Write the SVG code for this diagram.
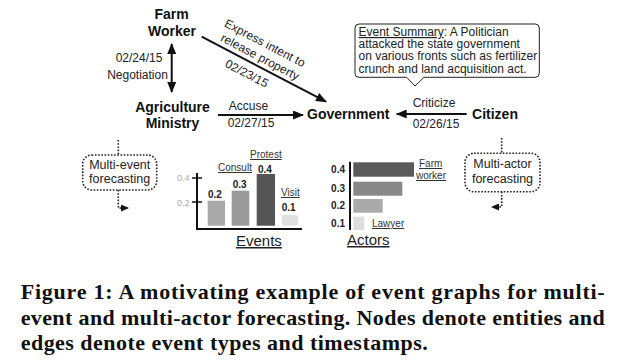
<svg xmlns="http://www.w3.org/2000/svg" width="620" height="361" viewBox="0 0 620 361">
<style>
.node{font-family:"Liberation Sans",Arial,sans-serif;font-weight:bold;font-size:14px;fill:#111;text-anchor:middle}
.lbl{font-family:"Liberation Sans",Arial,sans-serif;font-size:12px;fill:#222}
.mid{text-anchor:middle}
.sum{font-family:"Liberation Sans",Arial,sans-serif;font-size:12px;fill:#222}
.small{font-family:"Liberation Sans",Arial,sans-serif;font-size:10px;fill:#333}
.val{font-family:"Liberation Sans",Arial,sans-serif;font-size:10px;font-weight:bold;fill:#222}
.tick{font-family:"Liberation Sans",Arial,sans-serif;font-size:9px;fill:#aaa}
.ax{font-family:"Liberation Sans",Arial,sans-serif;font-size:15px;fill:#222;text-decoration:underline}
.u{text-decoration:underline}
.edge{stroke:#111;stroke-width:2;fill:none}
.dot{stroke:#222;stroke-width:1.6;fill:none;stroke-dasharray:1.6 1.6}
.fc{font-family:"Liberation Sans",Arial,sans-serif;font-size:12.5px;fill:#222;text-anchor:middle}
.cap{font-family:"Liberation Serif","Times New Roman",serif;font-weight:bold;font-size:22px;fill:#111}
</style>
<defs>
<marker id="ah" markerUnits="userSpaceOnUse" markerWidth="11" markerHeight="9" refX="10" refY="4.5" orient="auto-start-reverse">
<path d="M0,0 L11,4.5 L0,9 z" fill="#111"/>
</marker>
<marker id="ahs" markerUnits="userSpaceOnUse" markerWidth="8" markerHeight="7" refX="7" refY="3.5" orient="auto">
<path d="M0,0 L8,3.5 L0,7 z" fill="#111"/>
</marker>
</defs>
<rect width="620" height="361" fill="#fff"/>

<g id="connectors">
<line class="edge" x1="171.7" y1="44" x2="171.7" y2="92" marker-start="url(#ah)" marker-end="url(#ah)"/>
<line class="edge" x1="201.7" y1="36.7" x2="326" y2="101.7" marker-end="url(#ah)"/>
<line class="edge" x1="218" y1="115" x2="303" y2="115" marker-end="url(#ah)"/>
<line class="edge" x1="466.7" y1="114" x2="396.7" y2="114" marker-end="url(#ah)"/>
<text class="lbl mid" x="139" y="61.5">02/24/15</text>
<text class="lbl mid" x="137.5" y="79">Negotiation</text>
<text class="lbl mid" x="248.5" y="110">Accuse</text>
<text class="lbl mid" x="251" y="126.5">02/27/15</text>
<text class="lbl mid" x="434" y="106.5">Criticize</text>
<text class="lbl mid" x="436" y="128">02/26/15</text>
<g transform="translate(201.7,36.7) rotate(27.6)">
<text class="lbl mid" x="59" y="-19.5">Express intent to</text>
<text class="lbl mid" x="61" y="-5">release property</text>
<text class="lbl mid" x="57" y="15.8">02/23/15</text>
</g>
<path class="dot" d="M118.3,140 V155"/>
<path class="dot" d="M118.3,190 V208 H128" marker-end="url(#ahs)"/>
<path class="dot" d="M501.7,138 V153.3"/>
<path class="dot" d="M501.7,191.7 V207 H492" marker-end="url(#ahs)"/>
</g>

<g id="farm-worker">
<text class="node" x="171.5" y="18.5">Farm</text>
<text class="node" x="172" y="36">Worker</text>
</g>
<g id="agriculture-ministry">
<text class="node" x="172.5" y="111.5">Agriculture</text>
<text class="node" x="172.5" y="128">Ministry</text>
</g>
<g id="government">
<text class="node" x="348.3" y="118.5">Government</text>
</g>
<g id="citizen">
<text class="node" x="495" y="118.5">Citizen</text>
</g>

<g id="event-summary">
<path d="M359,24 H535.3 Q539.3,24 539.3,28 V73.3 Q539.3,77.3 535.3,77.3 H424 L415,86 L406.7,77.3 H359 Q355,77.3 355,73.3 V28 Q355,24 359,24 Z" fill="#fff" stroke="#222" stroke-width="1"/>
<text class="sum" x="358.5" y="36"><tspan class="u">Event Summary</tspan>: A Politician</text>
<text class="sum" x="358.5" y="48.2">attacked the state government</text>
<text class="sum" x="358.5" y="60.4">on various fronts such as fertilizer</text>
<text class="sum" x="358.5" y="72.6">crunch and land acquisition act.</text>
</g>

<g id="multi-event-forecasting">
<rect class="dot" x="82.7" y="155" width="74" height="35" rx="9"/>
<text class="fc" x="119.7" y="169.3">Multi-event</text>
<text class="fc" x="119.7" y="183">forecasting</text>
</g>
<g id="multi-actor-forecasting">
<rect class="dot" x="465" y="153.3" width="75" height="38.4" rx="9"/>
<text class="fc" x="502.5" y="168.3">Multi-actor</text>
<text class="fc" x="502.5" y="183.3">forecasting</text>
</g>

<g id="events-chart">
<rect x="207.7" y="200.7" width="17.3" height="25" fill="#a9a9a9"/>
<rect x="231.7" y="190.7" width="17.6" height="35" fill="#9a9a9a"/>
<rect x="256.7" y="174" width="18.3" height="51.7" fill="#555"/>
<rect x="281.7" y="215" width="16.6" height="10.7" rx="3" fill="#e0e0e0"/>
<path d="M197,173 V229 H302" stroke="#111" stroke-width="2" fill="none"/>
<path d="M192,178 H202 M192,202 H202" stroke="#111" stroke-width="1.6"/>
<text class="tick" x="177" y="181">0.4</text>
<text class="tick" x="177" y="205.5">0.2</text>
<text class="val" x="208" y="198">0.2</text>
<text class="val" x="232.7" y="188">0.3</text>
<text class="val" x="258" y="173">0.4</text>
<text class="val" x="281.7" y="211">0.1</text>
<text class="small u" x="218" y="171">Consult</text>
<text class="small u" x="250" y="158">Protest</text>
<text class="small u" x="281" y="196">Visit</text>
<text class="ax" x="236" y="246">Events</text>
</g>

<g id="actors-chart">
<rect x="353.3" y="162.3" width="60.7" height="14.4" fill="#5a5a5a"/>
<rect x="353.3" y="181.7" width="49" height="14" fill="#888"/>
<rect x="353.3" y="199" width="29.4" height="13.7" fill="#aaa"/>
<rect x="353.3" y="216.7" width="11" height="13.3" fill="#ddd"/>
<path d="M350,161.7 V230" stroke="#111" stroke-width="2"/>
<text class="val" x="345" y="173" text-anchor="end">0.4</text>
<text class="val" x="345" y="192" text-anchor="end">0.3</text>
<text class="val" x="345" y="209.3" text-anchor="end">0.2</text>
<text class="val" x="345" y="226.8" text-anchor="end">0.1</text>
<text class="small u" x="419" y="167">Farm</text>
<text class="small u" x="416" y="179">worker</text>
<text class="small u" x="372" y="227">Lawyer</text>
<text class="ax" x="347" y="245">Actors</text>
</g>

<g id="caption">
<text class="cap" x="20.7" y="299" textLength="584" lengthAdjust="spacing">Figure 1: A motivating example of event graphs for multi-</text>
<text class="cap" x="20.7" y="324.5" textLength="584" lengthAdjust="spacing">event and multi-actor forecasting. Nodes denote entities and</text>
<text class="cap" x="20.7" y="350" textLength="407" lengthAdjust="spacing">edges denote event types and timestamps.</text>
</g>
</svg>
